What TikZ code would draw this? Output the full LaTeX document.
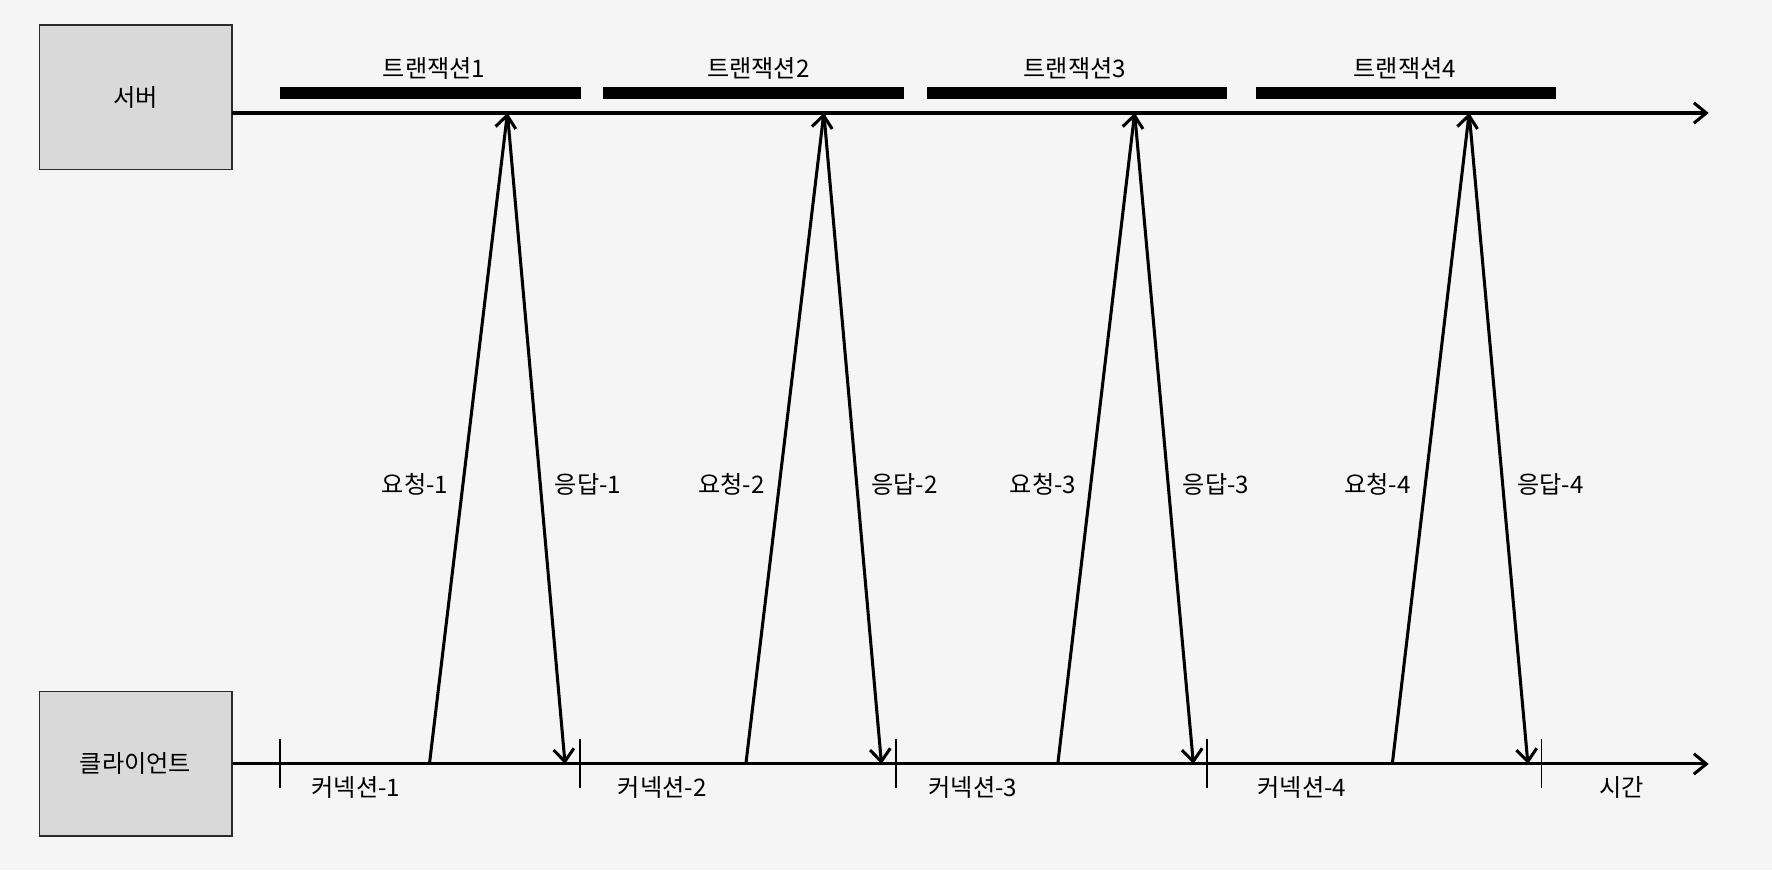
\documentclass[tikz,border=0pt]{standalone}
\usepackage{fontspec}
\setmainfont{Noto Sans CJK KR}
\usetikzlibrary{arrows.meta,positioning}
\definecolor{bg}{HTML}{F5F5F5}
\definecolor{boxfill}{HTML}{D9D9D9}
\definecolor{boxline}{HTML}{2A2A2A}
\tikzstyle{box}=[draw=boxline,fill=boxfill,line width=0.75pt,minimum width=85pt,minimum height=64pt,inner sep=0pt]
\tikzstyle{bar}=[fill=black,minimum width=133pt,minimum height=5.25pt,inner sep=0pt]
\tikzstyle{msg}=[->,line width=1.35pt]
\tikzstyle{timeline}=[->,line width=1.35pt]
\tikzstyle{tick}=[line width=0.7pt]

\begin{document}
\begin{tikzpicture}[x=0.5pt,y=-0.5pt,>={Straight Barb[length=5.5pt,width=9pt]},
		every node/.style={font=\fontsize{10.7pt}{12.8pt}\selectfont}]
		\useasboundingbox[fill=bg] (0,0) rectangle (1568,770);
		
		\node[box]    (server)  at (120,86)   {서버};
		\node[box]    (client)  at (120,676)  {클라이언트};
		
		\coordinate (sa)   at (205,100);
		\coordinate (sEnd) at (1512,100);
		\coordinate (cEnd) at (1512,676);
		\draw[timeline] (sa) -- (sEnd);
		\draw[timeline] (client.east) -- (cEnd);
		
		% transactions
		\node[bar]    (t1)  at (381,82.5)   {};
		\node[bar]    (t2)  at (667,82.5)   {};
		\node[bar]    (t3)  at (953,82.5)   {};
		\node[bar]    (t4)  at (1244,82.5)  {};
		\node   (lt1)  at (384,61)   {트랜잭션1};
		\node   (lt2)  at (671,61)   {트랜잭션2};
		\node   (lt3)  at (951,61)   {트랜잭션3};
		\node   (lt4)  at (1243,61)  {트랜잭션4};
		
		% request / response points
		\coordinate (q1) at (380,676);  \coordinate (s1) at (449,100);   \coordinate (r1) at (500,676);
		\coordinate (q2) at (660,676);  \coordinate (s2) at (729,100);   \coordinate (r2) at (780,676);
		\coordinate (q3) at (936,676);  \coordinate (s3) at (1004,100);  \coordinate (r3) at (1056,676);
		\coordinate (q4) at (1232,676); \coordinate (s4) at (1300,100);  \coordinate (r4) at (1352,676);
		
		\path[msg]
		(q1) edge node[pos=0.43,left=2.5pt] {요청-1}   (s1)
		(s1) edge node[pos=0.57,right=2.5pt] {응답-1}  (r1)
		(q2) edge node[pos=0.43,left=2.5pt] {요청-2}   (s2)
		(s2) edge node[pos=0.57,right=2.5pt] {응답-2}  (r2)
		(q3) edge node[pos=0.43,left=2.5pt] {요청-3}   (s3)
		(s3) edge node[pos=0.57,right=2.5pt] {응답-3}  (r3)
		(q4) edge node[pos=0.43,left=2.5pt] {요청-4}   (s4)
		(s4) edge node[pos=0.57,right=2.5pt] {응답-4}  (r4);
		
		% connections
		\draw[tick] (248,654) -- (248,697);
		\draw[tick] (513,654) -- (513,697);
		\draw[tick] (793,654) -- (793,697);
		\draw[tick] (1068,654) -- (1068,697);
		\draw[tick] (1364,654) -- (1364,697);
		\node   (k1)  at (315,697)   {커넥션-1};
		\node   (k2)  at (586,697)   {커넥션-2};
		\node   (k3)  at (861,697)   {커넥션-3};
		\node   (k4)  at (1152,697)  {커넥션-4};
		\node   (time)  at (1435,697)  {시간};
		
\end{tikzpicture}
\end{document}
